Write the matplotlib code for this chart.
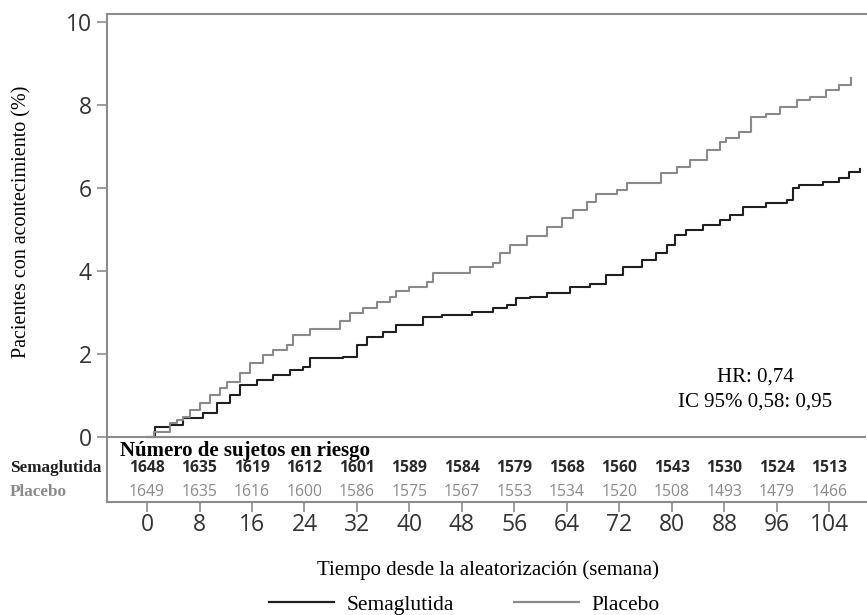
import matplotlib
matplotlib.use("Agg")
import matplotlib.pyplot as plt
from matplotlib.lines import Line2D

# Kaplan-Meier style cumulative incidence (week, %)
sema_weeks = [0, 1.2, 3.5, 5.5, 8.5, 10.7, 12.6, 14.2, 16.7, 19.2, 21.8, 23.8, 24.8,
              29.8, 32, 33.5, 36, 38, 42, 45, 49.6, 52.7, 54.8, 56.3, 58.3, 60.9,
              64.4, 67.5, 70, 72.5, 75.5, 77.6, 79.2, 80.4, 82.2, 84.7, 87.3, 88.8,
              90.8, 94.4, 97.5, 98.4, 99.4, 103, 105.5, 107, 108.6]
sema_pct = [0, 0.25, 0.29, 0.46, 0.58, 0.82, 1.01, 1.25, 1.37, 1.49, 1.61, 1.69, 1.90,
            1.93, 2.22, 2.41, 2.53, 2.70, 2.89, 2.94, 3.01, 3.10, 3.18, 3.35, 3.37, 3.47,
            3.62, 3.70, 3.90, 4.10, 4.27, 4.43, 4.63, 4.87, 4.99, 5.11, 5.23, 5.35,
            5.54, 5.64, 5.71, 6.00, 6.07, 6.14, 6.24, 6.39, 6.46]

plac_weeks = [0, 1, 3.5, 4.5, 5.5, 6.5, 8, 9.6, 11.1, 12.2, 14.2, 15.7, 17.7, 19.2,
              21.3, 22.2, 24.8, 29.4, 30.9, 32.9, 35, 37, 38, 40, 42.6, 43.6, 49.2,
              52.7, 53.8, 55.3, 57.9, 60.9, 63.3, 64.9, 67, 68.5, 71.6, 73.1, 78.4,
              80.7, 82.7, 85.3, 87.3, 88.3, 90.3, 92.1, 94.4, 96.4, 99, 101, 103.5,
              105.5, 107.3]
plac_pct = [0, 0.12, 0.34, 0.41, 0.48, 0.65, 0.82, 1.01, 1.18, 1.33, 1.54, 1.78, 1.98, 2.10,
            2.22, 2.46, 2.60, 2.80, 2.99, 3.10, 3.25, 3.37, 3.52, 3.62, 3.73, 3.95, 4.10,
            4.19, 4.43, 4.63, 4.85, 5.06, 5.28, 5.47, 5.66, 5.86, 5.95, 6.12, 6.36,
            6.51, 6.67, 6.92, 7.11, 7.20, 7.35, 7.71, 7.80, 7.95, 8.12, 8.19, 8.36,
            8.48, 8.65]

risk_weeks = [0, 8, 16, 24, 32, 40, 48, 56, 64, 72, 80, 88, 96, 104]
risk_sema = [1648, 1635, 1619, 1612, 1601, 1589, 1584, 1579, 1568, 1560, 1543, 1530, 1524, 1513]
risk_plac = [1649, 1635, 1616, 1600, 1586, 1575, 1567, 1553, 1534, 1520, 1508, 1493, 1479, 1466]

black = "#1f1f1f"
grey = "#8a8a8a"
spine_col = "#8c8c8c"
serif = "Liberation Serif"
sans = "Open Sans"

fig = plt.figure(figsize=(8.67, 6.15), dpi=100)
ax = fig.add_axes([0.1234, 0.1837, 0.8756, 0.7935])

ax.step(sema_weeks, sema_pct, where="post", color=black, lw=1.5)
ax.step(plac_weeks, plac_pct, where="post", color=grey, lw=1.5)

ax.set_xlim(-6.1, 109.6)
ax.set_ylim(-1.566, 10.2)
ax.axhline(0, color=spine_col, lw=1.5)

ax.spines["right"].set_visible(False)
for side in ["left", "top", "bottom"]:
    ax.spines[side].set_color(spine_col)
    ax.spines[side].set_linewidth(1.5)

ax.set_yticks([0, 2, 4, 6, 8, 10])
ax.set_xticks(risk_weeks)
ax.tick_params(axis="both", colors=spine_col, length=7, width=1.2, labelcolor="#333333",
               labelsize=16.5)
ax.tick_params(axis="x", pad=1)
ax.tick_params(axis="y", pad=4)
for lab in ax.get_xticklabels() + ax.get_yticklabels():
    lab.set_family(sans)

ax.set_ylabel("Pacientes con acontecimiento (%)", family=serif, fontsize=14.5)
ax.yaxis.set_label_coords(-0.099, 0.574)
ax.set_xlabel("Tiempo desde la aleatorización (semana)", family=serif, fontsize=15)
ax.xaxis.set_label_coords(0.5018, -0.12)

# risk table inside the frame
ax.text(-4.1, -0.33, "Número de sujetos en riesgo", family=serif, fontweight="bold",
        fontsize=15, ha="left", va="center")
row_x = -(107 - 10) / 6.558 - 6.1
ax.text(row_x, -0.75, "Semaglutida", family=serif, fontweight="bold", fontsize=12.3,
        ha="left", va="center", color=black, clip_on=False)
ax.text(row_x, -1.33, "Placebo", family=serif, fontweight="bold", fontsize=12.3,
        ha="left", va="center", color=grey, clip_on=False)
for w, s, p in zip(risk_weeks, risk_sema, risk_plac):
    ax.text(w, -0.75, str(s), family=sans, fontweight="bold", fontsize=11.3, ha="center",
            va="center", color="#2a2a2a")
    ax.text(w, -1.33, str(p), family=sans, fontsize=11.3, ha="center", va="center",
            color=grey)

ax.text(92.7, 1.45, "HR: 0,74", family=serif, fontsize=15, ha="center", va="center")
ax.text(92.7, 0.84, "IC 95% 0,58: 0,95", family=serif, fontsize=15, ha="center",
        va="center")

handles = [Line2D([], [], color=black, lw=1.6), Line2D([], [], color=grey, lw=1.6)]
fig.legend(handles, ["Semaglutida", "Placebo"], loc="center", bbox_to_anchor=(0.536, 0.017),
           ncol=2, frameon=False, prop={"family": serif, "size": 15.5},
           handlelength=3.0, columnspacing=2.8, handletextpad=0.6)

fig.savefig("out.png", dpi=100)
